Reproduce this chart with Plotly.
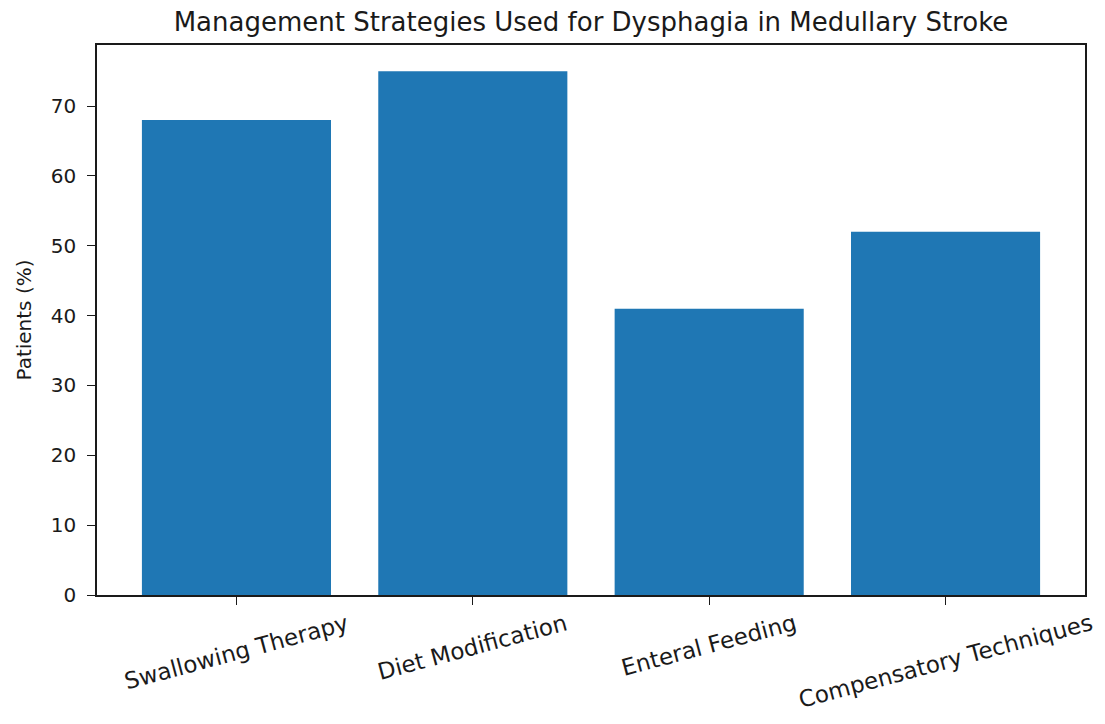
import plotly.graph_objects as go

categories = ["Swallowing Therapy", "Diet Modification", "Enteral Feeding", "Compensatory Techniques"]
patients_pct = [68, 75, 41, 52]
y_ticks = [0, 10, 20, 30, 40, 50, 60, 70]

title_text = "Management Strategies Used for Dysphagia in Medullary Stroke"
y_label = "Patients (%)"

FONT = "DejaVu Sans"
INK = "#1a1a1a"

fig = go.Figure()
fig.add_trace(go.Bar(
    x=categories,
    y=patients_pct,
    width=0.8,
    marker=dict(color="#1f77b4", line=dict(width=0)),
))

for c in categories:
    fig.add_annotation(
        x=c, xref="x", y=0, yref="paper",
        text=c, showarrow=False, textangle=-15,
        xanchor="center", yanchor="top", yshift=-12,
        font=dict(family=FONT, size=23, color=INK),
    )

# page body has an 8px margin, so the figure is laid out 8px smaller / shifted
fig.update_layout(
    width=1097, height=716,
    margin=dict(l=89, r=20, t=37, b=129, autoexpand=False),
    paper_bgcolor="white", plot_bgcolor="white",
    showlegend=False,
    bargap=0.2,
    title=dict(
        text=title_text, x=0.5, xref="paper", xanchor="center",
        y=1 - 14 / 716, yref="container", yanchor="middle",
        font=dict(family=FONT, size=26, color=INK),
    ),
    xaxis=dict(
        type="category", range=[-0.59, 3.59],
        showticklabels=False, ticks="outside", ticklen=8, tickwidth=1.3,
        tickcolor=INK,
        showline=True, linecolor=INK, linewidth=1.5, mirror=True,
        showgrid=False, zeroline=False, automargin=False,
    ),
    yaxis=dict(
        range=[0, 78.75], tickvals=y_ticks, ticks="outside", ticklen=8,
        tickwidth=1.3, tickcolor=INK, ticklabelstandoff=7,
        tickfont=dict(family=FONT, size=20, color=INK),
        showline=True, linecolor=INK, linewidth=1.5, mirror=True,
        showgrid=False, zeroline=False, automargin=False,
        title=dict(text=y_label, font=dict(family=FONT, size=20, color=INK), standoff=14),
    ),
)

fig.write_html("out.html")
